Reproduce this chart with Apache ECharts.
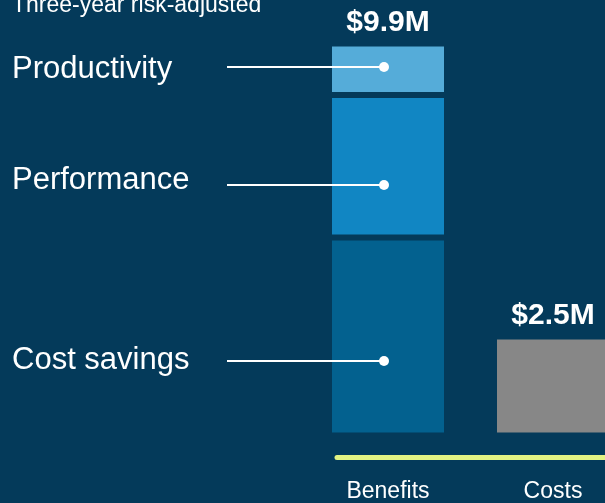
<!DOCTYPE html>
<html>
<head>
<meta charset="utf-8">
<script src="https://cdn.jsdelivr.net/npm/echarts@6/dist/echarts.min.js"></script>
<style>
    html, body { margin: 0; padding: 0; background: #043a5a; }
    #chart { width: 605px; height: 503px; }
</style>
</head>
<body>
<div id="chart"></div>
<script>
// 数据
const categories = ['Benefits', 'Costs'];
const costSavings = [5.0, '-'];
const performance = [3.6, '-'];
const productivity = [1.3, '-'];
const costs = ['-', 2.5];
const totalLabels = ['$9.9M', '$2.5M'];
const segmentNames = ['Productivity', 'Performance', 'Cost savings'];

const BG = '#043a5a';
const FONT = '"Liberation Sans", Arial, sans-serif';

// 左侧说明文字 + 引线 (像素位置)
const noteTextTop = [54, 165, 345];
const noteLineY = [67, 185, 361];

renderChart();

function renderChart() {
    let chart = echarts.init(document.getElementById('chart'));

    let graphics = [{
        type: 'text',
        left: 12,
        top: -6,
        style: { text: 'Three-year risk-adjusted', fill: '#fff', font: '23px ' + FONT }
    }];
    for (let i = 0; i < segmentNames.length; i++) {
        graphics.push({
            type: 'text',
            left: 12,
            top: noteTextTop[i],
            style: { text: segmentNames[i], fill: '#fff', font: '31px ' + FONT }
        });
        graphics.push({
            type: 'line',
            z: 10,
            shape: { x1: 227, y1: noteLineY[i], x2: 384, y2: noteLineY[i] },
            style: { stroke: '#fff', lineWidth: 2 }
        });
        graphics.push({
            type: 'circle',
            z: 10,
            shape: { cx: 384, cy: noteLineY[i], r: 5 },
            style: { fill: '#fff' }
        });
    }

    const totalLabel = {
        show: true,
        position: 'top',
        distance: 6,
        color: '#fff',
        fontFamily: FONT,
        fontWeight: 'bold',
        fontSize: 30,
        formatter: function (p) { return totalLabels[p.dataIndex]; }
    };

    let option = {
        backgroundColor: BG,
        animation: false,
        graphic: graphics,
        grid: [
            { left: 305.5, width: 330, top: 43.5, bottom: 67.5, outerBoundsMode: 'none', containLabel: false },
            { left: 337, right: 0, top: 447.5, height: 10, outerBoundsMode: 'none', containLabel: false }
        ],
        xAxis: [{
            type: 'category',
            gridIndex: 0,
            data: categories,
            axisLine: { show: false },
            axisTick: { show: false },
            axisLabel: { color: '#fff', fontFamily: FONT, fontSize: 23, margin: 45 }
        }, {
            type: 'value',
            gridIndex: 1,
            min: 0,
            max: 1,
            axisLine: { show: true, lineStyle: { color: '#e2f383', width: 5 } },
            axisTick: { show: false },
            axisLabel: { show: false },
            splitLine: { show: false }
        }],
        yAxis: [{
            type: 'value',
            gridIndex: 0,
            min: 0,
            max: 9.9,
            show: false
        }, {
            type: 'value',
            gridIndex: 1,
            show: false
        }],
        series: [{
            name: 'Cost savings',
            type: 'bar',
            stack: 'total',
            barWidth: 118,
            data: costSavings,
            itemStyle: { color: '#03618f', borderColor: BG, borderWidth: 3 }
        }, {
            name: 'Performance',
            type: 'bar',
            stack: 'total',
            data: performance,
            itemStyle: { color: '#1186c3', borderColor: BG, borderWidth: 3 }
        }, {
            name: 'Productivity',
            type: 'bar',
            stack: 'total',
            data: productivity,
            itemStyle: { color: '#55acd9', borderColor: BG, borderWidth: 3 },
            label: totalLabel
        }, {
            name: 'Costs',
            type: 'bar',
            stack: 'total',
            data: costs,
            itemStyle: { color: '#878787', borderColor: BG, borderWidth: 3 },
            label: totalLabel
        }]
    };

    chart.setOption(option);
}
</script>
</body>
</html>
